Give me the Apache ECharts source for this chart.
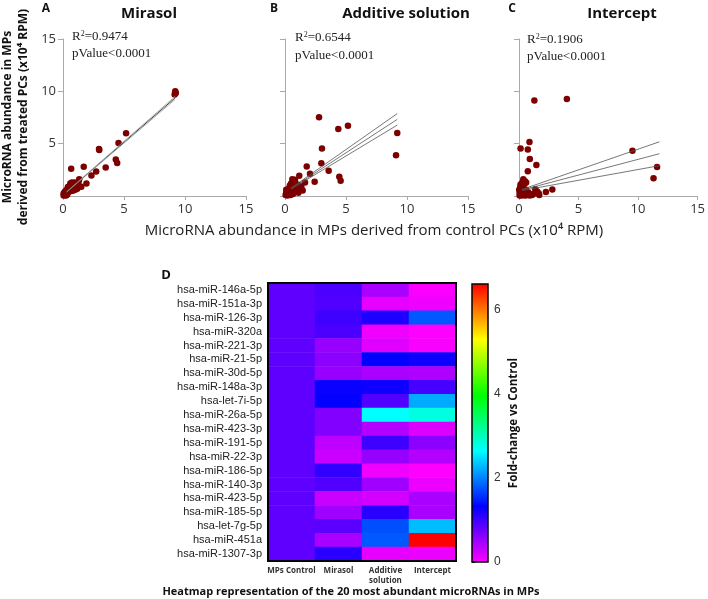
<!DOCTYPE html>
<html>
<head>
<meta charset="utf-8">
<script src="https://cdn.jsdelivr.net/npm/echarts@6/dist/echarts.min.js"></script>
<style>
  html, body { margin: 0; padding: 0; background: #fff; }
  #main { width: 708px; height: 599px; }
</style>
</head>
<body>
<div id="main"></div>
<script>
// scatter data: [control PCs, treated PCs] (x10^4 RPM)
var mirasolPts = [
  [9.2,10.0],[9.15,9.7],[9.25,9.85],[5.17,6.0],[4.55,5.06],[2.95,4.5],[2.97,4.4],[4.33,3.48],[4.44,3.16],
  [1.7,2.8],[0.67,2.6],[3.5,2.72],[2.72,2.34],[2.33,1.96],[1.92,1.2],[1.33,1.6],[1.28,1.35],[0.72,1.3],
  [1.5,0.89],[1.17,0.7],[0.58,1.0],[0.44,0.7],[0.17,0.4],[0.05,0.05],[0.1,0.15],[0.15,0.1],[0.2,0.25],
  [0.25,0.2],[0.3,0.35],[0.35,0.3],[0.4,0.45],[0.45,0.5],[0.5,0.4],[0.55,0.6],[0.6,0.7],[0.65,0.55],
  [0.7,0.8],[0.75,0.9],[0.8,1.05],[0.85,1.1],[0.6,1.2],[0.9,0.75],[1.0,0.6],[0.4,0.85],[0.3,0.6],
  [0.2,0.45],[0.1,0.3],[0.5,0.9],[1.1,1.0],[0.95,1.3],[0.8,0.5],[0.25,0.05],[0.35,0.15],[0.05,0.25],
  [1.2,1.15],[0.7,1.05]
];
var additivePts = [
  [2.79,7.52],[4.37,6.41],[5.16,6.72],[9.2,6.03],[9.1,3.9],[3.03,4.53],[2.98,3.14],[1.78,2.82],[3.58,2.41],
  [2.05,2.12],[1.17,1.93],[4.45,1.84],[4.56,1.46],[2.43,1.36],[1.64,1.3],[1.34,0.86],[1.45,0.53],[0.82,1.55],
  [0.6,1.6],[0.7,1.3],[0.5,1.2],[0.4,1.0],[0.55,0.85],[0.3,0.7],[0.2,0.5],[0.1,0.3],[0.05,0.1],[0.15,0.15],
  [0.25,0.3],[0.35,0.45],[0.45,0.6],[0.6,0.5],[0.75,0.7],[0.9,0.9],[1.0,1.1],[0.85,0.4],[1.1,0.3],[0.65,0.2],
  [0.3,0.2],[0.45,0.1],[0.2,0.05],[0.1,0.6],[0.5,0.35],[0.8,1.0],[1.2,0.95],[0.95,0.65]
];
var interceptPts = [
  [1.29,9.13],[4.02,9.26],[0.88,5.16],[0.13,4.55],[0.74,4.45],[0.91,3.53],[1.46,2.95],[0.74,2.37],[9.53,4.33],
  [11.6,2.76],[11.3,1.7],[2.8,0.61],[2.26,0.38],[1.65,0.26],[1.37,0.64],[1.52,0.42],[0.36,1.6],[0.5,1.4],
  [0.13,1.1],[0.25,1.25],[0.45,1.15],[0.6,1.3],[0.1,0.8],[0.3,0.7],[0.2,0.5],[0.05,0.3],[0.15,0.15],
  [0.35,0.25],[0.5,0.1],[0.7,0.15],[0.9,0.05],[0.8,0.3],[1.1,0.1],[1.7,0.1],[0.05,0.05],[0.25,0.05],
  [0.4,0.45],[0.6,0.6],[0.15,0.95],[0.55,0.05],[1.2,0.2],[0.02,0.6]
];

// linear fits
var fitSlope = [1.01, 0.76, 0.30];
var fitIntercept = [0.09, 0.33, 0.50];
var fitXFrom = [0.3, 0.5, 0.25];
var fitXTo = [9.2, 9.2, 11.8];
var bandFrom = [0.02, 0.05, 0.05];
var bandTo = [0.15, 0.55, 1.14];
var r2Text = ['0.9474', '0.6544', '0.1906'];
var panelNames = ['Mirasol', 'Additive solution', 'Intercept'];
var panelLetters = ['A', 'B', 'C'];

// heatmap: fold-change vs control
var heatRows = ['hsa-miR-146a-5p','hsa-miR-151a-3p','hsa-miR-126-3p','hsa-miR-320a','hsa-miR-221-3p',
  'hsa-miR-21-5p','hsa-miR-30d-5p','hsa-miR-148a-3p','hsa-let-7i-5p','hsa-miR-26a-5p','hsa-miR-423-3p',
  'hsa-miR-191-5p','hsa-miR-22-3p','hsa-miR-186-5p','hsa-miR-140-3p','hsa-miR-423-5p','hsa-miR-185-5p',
  'hsa-let-7g-5p','hsa-miR-451a','hsa-miR-1307-3p'];
var heatCols = ['MPs Control', 'Mirasol', 'Additive\nsolution', 'Intercept'];
var controlFc   = [0.83,0.83,0.83,0.83,0.83,0.83,0.83,0.83,0.83,0.83,0.83,0.83,0.83,0.83,0.83,0.83,0.83,0.83,0.83,0.83];
var mirasolFc   = [0.93,0.9,1.0,0.93,0.54,0.6,0.54,1.27,1.3,0.65,0.65,0.34,0.28,1.06,0.9,0.28,0.49,0.85,0.44,1.11];
var additiveFc  = [0.44,0.13,1.17,0.08,0.16,1.32,0.44,1.25,0.9,2.64,0.39,1.0,0.54,0.08,0.49,0.23,1.11,1.73,1.78,0.13];
var interceptFc = [0.02,0.08,1.78,0.0,0.03,1.25,0.42,0.96,2.2,2.8,0.18,0.6,0.39,0.0,0.1,0.44,0.44,2.3,6.6,0.1];
var colorTicks = [0, 2, 4, 6];

var scatterSets = [mirasolPts, additivePts, interceptPts];
var fcCols = [controlFc, mirasolFc, additiveFc, interceptFc];

var chart = echarts.init(document.getElementById('main'), null, { renderer: 'canvas' });

var panelLeft = [63, 285, 519];
var panelWidth = [183, 183, 181];
var grids = [], xAxes = [], yAxes = [], series = [], graphics = [];

panelLeft.forEach(function (left, i) {
  grids.push({ left: left, top: 39, width: panelWidth[i], height: 157 });
  xAxes.push({
    type: 'value', gridIndex: i, min: 0, max: 15, interval: 5,
    axisLine: { lineStyle: { color: '#aaa', width: 1 } },
    axisTick: { length: 4, lineStyle: { color: '#aaa' } },
    axisLabel: { color: '#333', fontSize: 13, fontFamily: 'Open Sans', margin: 7 },
    splitLine: { show: false }
  });
  yAxes.push({
    type: 'value', gridIndex: i, min: 0, max: 15, interval: 5,
    axisLine: { show: true, lineStyle: { color: '#aaa', width: 1 } },
    axisTick: { show: true, length: 5, lineStyle: { color: '#aaa' } },
    axisLabel: { show: i === 0, showMinLabel: false, color: '#333', fontSize: 13, fontFamily: 'Open Sans', margin: 7 },
    splitLine: { show: false }
  });
  series.push({
    type: 'scatter', xAxisIndex: i, yAxisIndex: i, data: scatterSets[i],
    symbolSize: 6.5, itemStyle: { color: '#7d0000', opacity: 1 }, z: 3
  });
  // fit line and confidence band
  var x0 = fitXFrom[i], x1 = fitXTo[i];
  var c0 = fitIntercept[i] + fitSlope[i] * x0, c1 = fitIntercept[i] + fitSlope[i] * x1;
  [0, 1, -1].forEach(function (s) {
    series.push({
      type: 'line', xAxisIndex: i, yAxisIndex: i, showSymbol: false, silent: true,
      data: [[x0, c0 + s * bandFrom[i]], [x1, c1 + s * bandTo[i]]],
      lineStyle: { color: (i === 0 && s === 0) ? '#111' : (i === 0 ? '#999' : '#555'), width: 0.8 },
      z: 4
    });
  });
  graphics.push({
    type: 'text', x: [46, 274, 512][i], y: 9,
    style: { text: panelLetters[i], font: 'bold 12px "Open Sans"', fill: '#111', align: 'center', verticalAlign: 'middle' }
  });
  graphics.push({
    type: 'text', x: [149, 406, 622][i], y: 14,
    style: { text: panelNames[i], font: 'bold 15px "Open Sans"', fill: '#111', align: 'center', verticalAlign: 'middle' }
  });
  graphics.push({
    type: 'text', x: [72, 295, 527][i], y: [37, 38, 40][i],
    style: {
      text: 'R{sup|2}=' + r2Text[i], font: '13px "Liberation Serif"', fill: '#222', verticalAlign: 'middle',
      rich: { sup: { fontSize: 8, fontFamily: 'Liberation Serif', verticalAlign: 'top', padding: [0, 0, 6, 0] } }
    }
  });
  graphics.push({
    type: 'text', x: [72, 295, 527][i], y: [54, 56, 57][i],
    style: { text: 'pValue<0.0001', font: '13px "Liberation Serif"', fill: '#222', verticalAlign: 'middle' }
  });
});

// heatmap grid
grids.push({ left: 268, top: 283, width: 188, height: 278 });
xAxes.push({
  type: 'category', gridIndex: 3, data: heatCols,
  axisLine: { show: false }, axisTick: { show: false },
  axisLabel: { interval: 0, color: '#333', fontSize: 8, fontWeight: 'bold', fontFamily: 'Open Sans', margin: 5, lineHeight: 10 },
  splitLine: { show: false }
});
yAxes.push({
  type: 'category', gridIndex: 3, data: heatRows, inverse: true,
  axisLine: { show: false }, axisTick: { show: false },
  axisLabel: { interval: 0, color: '#222', fontSize: 11, fontFamily: 'Liberation Sans', margin: 6 },
  splitLine: { show: false }
});
var heatData = [];
fcCols.forEach(function (col, c) {
  col.forEach(function (v, r) { heatData.push([c, r, v]); });
});
series.push({
  type: 'heatmap', xAxisIndex: 3, yAxisIndex: 3, data: heatData,
  itemStyle: { borderWidth: 0 }, emphasis: { disabled: true }
});

// colour bar axis
grids.push({ left: 472, top: 284, width: 16, height: 278 });
xAxes.push({ type: 'value', gridIndex: 4, show: false });
yAxes.push({
  type: 'value', gridIndex: 4, position: 'right', min: 0, max: 6.6,
  axisLine: { show: false },
  axisTick: { show: true, length: 3, customValues: colorTicks, lineStyle: { color: '#000', width: 1.5 } },
  axisLabel: { customValues: colorTicks, color: '#333', fontSize: 12, fontFamily: 'Liberation Sans', margin: 6 },
  splitLine: { show: false },
  name: 'Fold-change vs Control', nameLocation: 'middle', nameRotate: 90, nameGap: 20,
  nameTextStyle: { fontSize: 11.5, fontWeight: 'bold', fontFamily: 'Open Sans', color: '#111' }
});

graphics.push(
  { type: 'rect', z: 100, shape: { x: 268, y: 283, width: 188, height: 278 }, style: { fill: 'none', stroke: '#000', lineWidth: 2 } },
  { type: 'rect', z: 100, shape: { x: 472, y: 284, width: 16, height: 278 }, style: { fill: 'none', stroke: '#000', lineWidth: 1.5 } },
  { type: 'text', x: 166, y: 275, style: { text: 'D', font: 'bold 13px "Open Sans"', fill: '#111', align: 'center', verticalAlign: 'middle' } },
  { type: 'text', x: 351, y: 592, style: { text: 'Heatmap representation of the 20 most abundant microRNAs in MPs', font: 'bold 11px "Open Sans"', fill: '#111', align: 'center', verticalAlign: 'middle' } },
  { type: 'text', x: 374, y: 231, style: { text: 'MicroRNA abundance in MPs derived from control PCs (x10\u2074 RPM)', font: '15px "Open Sans"', fill: '#222', align: 'center', verticalAlign: 'middle' } },
  { type: 'text', x: 16, y: 117, rotation: Math.PI / 2, style: { text: 'MicroRNA abundance in MPs\nderived from treated PCs (x10\u2074 RPM)', font: 'bold 12px "Open Sans"', fill: '#111', align: 'center', verticalAlign: 'middle', lineHeight: 16 } }
);

chart.setOption({
  animation: false,
  backgroundColor: '#fff',
  grid: grids,
  xAxis: xAxes,
  yAxis: yAxes,
  visualMap: {
    type: 'continuous', seriesIndex: series.length - 1, min: 0, max: 6.6,
    calculable: false, orient: 'vertical', left: 472, top: 284, padding: 0,
    itemWidth: 16, itemHeight: 278, text: null, showLabel: false, hoverLink: false,
    inRange: { color: ['#ff00ff', '#0000ff', '#00ffff', '#00ff00', '#ffff00', '#ff0000'] }
  },
  series: series,
  graphic: graphics
});
</script>
</body>
</html>
